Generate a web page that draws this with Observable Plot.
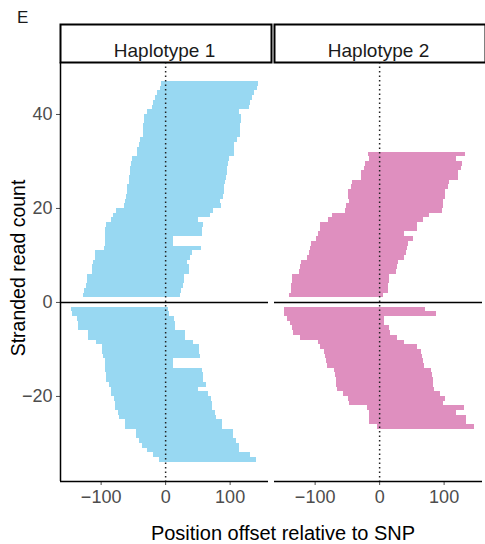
<!DOCTYPE html>
<html>
<head>
<meta charset="utf-8">
<script src="https://cdn.jsdelivr.net/npm/d3@7"></script>
<script src="https://cdn.jsdelivr.net/npm/@observablehq/plot@0.6"></script>
<style>
  html, body { margin: 0; padding: 0; background: #fff; }
  #wrap { position: relative; width: 485px; height: 544px; font-family: "Liberation Sans", Arial, Helvetica, sans-serif; }
  .lab { position: absolute; white-space: nowrap; color: #000; }
</style>
</head>
<body>
<div id="wrap">
  <div id="chart"></div>
  <div class="lab" style="left:17px; top:8px; font-size:17px; color:#1a1a1a;">E</div>
  <div class="lab" id="ylab" style="left:18px; top:268px; font-size:19.5px; transform: translate(-50%,-50%) rotate(-90deg);">Stranded read count</div>
  <div class="lab" id="xlab" style="left:283px; top:533px; font-size:20px; transform: translate(-50%,-50%);">Position offset relative to SNP</div>
</div>
<script>
// Facet names
const haplotypes = ["Haplotype 1", "Haplotype 2"];
const hapColors = ["#98d8f2", "#df8fbf"];

// Read start / end offsets, listed from the zero line outward
const hap1PlusStart = [-127,-126,-122,-121,-121,-113,-113,-112,-108,-108,-95,-93,-93,-93,-93,-91,-84,-81,-76,-64,-62,-60,-59,-59,-56,-56,-54,-54,-53,-51,-43,-43,-40,-39,-34,-34,-34,-33,-33,-28,-20,-19,-15,-12,-8,-6];
const hap1PlusEnd   = [23,25,28,29,29,37,37,34,39,42,56,12,12,57,57,59,51,70,74,87,85,90,91,91,93,95,96,96,98,99,107,107,107,112,116,116,116,118,118,115,130,132,135,138,143,144];

const hap1MinusStart = [-146,-144,-136,-135,-135,-119,-119,-107,-98,-98,-96,-93,-93,-93,-91,-91,-87,-84,-84,-79,-78,-78,-73,-71,-62,-62,-45,-45,-40,-36,-28,-19,-9];
const hap1MinusEnd   = [5,6,14,16,16,31,31,43,53,53,54,12,12,57,59,59,64,51,67,71,73,73,78,79,88,88,105,105,110,115,115,132,141];

const hap2PlusStart = [-140,-137,-137,-135,-135,-125,-123,-121,-112,-109,-107,-106,-98,-95,-92,-92,-80,-73,-53,-52,-47,-49,-49,-44,-42,-28,-28,-24,-22,-16,-18];
const hap2PlusEnd   = [6,14,14,15,15,26,27,29,38,41,43,45,52,38,58,58,68,77,97,99,99,102,102,107,108,122,122,127,128,119,133];

const hap2MinusStart = [-148,-148,-143,-138,-135,-134,-123,-95,-92,-86,-84,-83,-81,-70,-69,-67,-67,-66,-56,-49,-47,-19,-16,-16,-16,-4];
const hap2MinusEnd   = [71,88,7,7,15,17,27,38,58,65,66,68,69,80,82,83,83,85,94,102,99,131,119,134,134,147];

// Axis ticks
const xTicks = [-100, 0, 100];
const yTicks = [-20, 0, 20, 40];

function build(hap, starts, ends, sign) {
  return starts.map((s, i) => ({
    hap,
    start: s,
    end: ends[i],
    y1: sign * (i + 1),
    y2: sign * (i + 2)
  }));
}
const reads = [
  ...build(haplotypes[0], hap1PlusStart, hap1PlusEnd, 1),
  ...build(haplotypes[0], hap1MinusStart, hap1MinusEnd, -1),
  ...build(haplotypes[1], hap2PlusStart, hap2PlusEnd, 1),
  ...build(haplotypes[1], hap2MinusStart, hap2MinusEnd, -1)
];

const W = 485, H = 544, mT = 62, mB = 63;
const xDomain = [-163, 159.5];
const yDomain = [-38.1, 51.06];

const chart = Plot.plot({
  width: W,
  height: H,
  marginLeft: 60,
  marginRight: 3,
  marginTop: mT,
  marginBottom: mB,
  style: {fontFamily: "'Liberation Sans', Arial, Helvetica, sans-serif", fontSize: "18px", color: "#4d4d4d", background: "white"},
  fx: {axis: null, domain: haplotypes, paddingInner: 0.028, paddingOuter: 0, round: false},
  x: {domain: xDomain, ticks: xTicks, tickSize: 4, tickPadding: 5, label: null},
  y: {domain: yDomain, ticks: yTicks, tickSize: 4, tickPadding: 4, label: null},
  color: {domain: haplotypes, range: hapColors},
  marks: [
    Plot.rect(reads, {x1: "start", x2: "end", y1: "y1", y2: "y2", fx: "hap", fill: "hap", shapeRendering: "crispEdges"}),
    Plot.ruleY([0], {stroke: "#000", strokeWidth: 1.4}),
    Plot.ruleX([0], {stroke: "#222", strokeWidth: 1.5, strokeDasharray: "1.5,3"}),
    Plot.ruleY([yDomain[0]], {stroke: "#000", strokeWidth: 1.5}),
    Plot.ruleX([haplotypes[0]], {x: () => xDomain[0], fx: d => d, stroke: "#000", strokeWidth: 1.5}),
    Plot.frame({fill: "white", stroke: "#000", strokeWidth: 2, insetTop: -38, insetBottom: H - mT - mB, insetRight: -3}),
    Plot.text(haplotypes, {fx: d => d, text: d => d, frameAnchor: "top", dy: -19, fontSize: 19, fill: "#1a1a1a"})
  ]
});
document.getElementById("chart").appendChild(chart);
</script>
</body>
</html>
